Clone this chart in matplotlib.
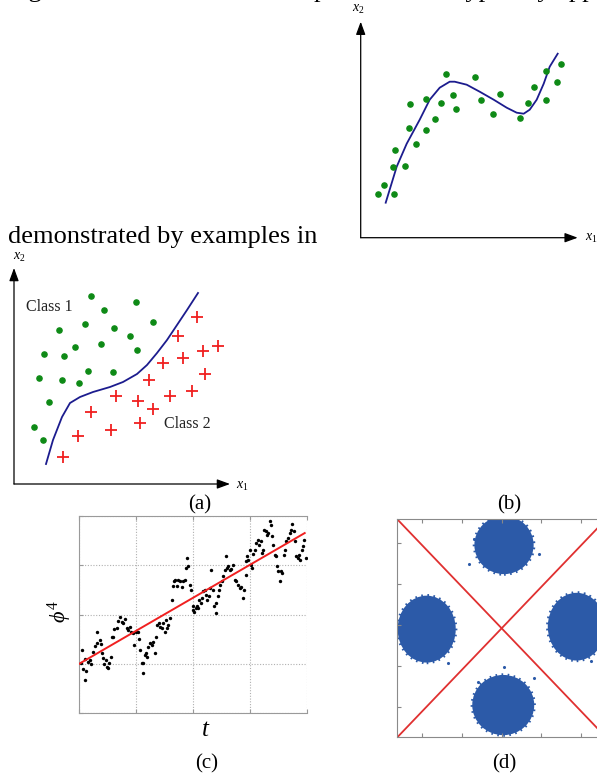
import matplotlib.pyplot as plt
from matplotlib.patches import Ellipse

W, H = 597, 774
plt.rcParams['font.family'] = ['Liberation Serif', 'DejaVu Serif']
plt.rcParams['mathtext.fontset'] = 'custom'
plt.rcParams['mathtext.rm'] = 'Liberation Serif'
plt.rcParams['mathtext.it'] = 'Liberation Serif:italic'

GREEN = '#0e8a16'
RED = '#f02020'
NAVY = '#1c1c8e'
CLUSTER = '#2c5aa8'

# ---- (a) classification: two classes split by a curve
cls1_x = [77, 122, 90, 45, 71, 100, 116, 139, 30, 50, 61, 87, 123, 25, 48, 65, 74, 99, 35, 20, 29]
cls1_y = [188, 182, 174, 154, 160, 156, 148, 162, 130, 128, 137, 140, 134, 106, 104, 101, 113, 112, 82, 57, 44]
cls2_x = [183, 164, 189, 204, 169, 149, 191, 135, 102, 124, 156, 178, 139, 77, 126, 97, 64, 49]
cls2_y = [167, 148, 133, 138, 126, 121, 110, 104, 88, 83, 88, 93, 75, 72, 61, 54, 48, 27]
bound_x = [32, 39, 48, 56, 66, 79, 96, 109, 123, 133, 143, 153, 163, 173, 184]
bound_y = [20, 44, 67, 81, 87, 92, 97, 102, 110, 119, 131, 144, 159, 174, 191]

# ---- (b) regression: noisy samples and fitted curve
reg_x = [17, 23, 33, 32, 34, 44, 55, 48, 49, 65, 65, 74, 80, 85, 92, 95, 114, 120, 132, 139,
         159, 167, 173, 185, 185, 196, 200]
reg_y = [44, 53, 44, 71, 88, 72, 94, 110, 134, 108, 139, 119, 135, 164, 143, 129, 161, 138, 124, 144,
         120, 135, 151, 138, 167, 156, 174]
fit_x = [25, 36, 46, 59, 69, 79, 89, 94, 106, 119, 133, 146, 156, 163, 169, 176, 183, 189, 197]
fit_y = [35, 71, 94, 118, 138, 150, 156, 156, 153, 146, 138, 130, 125, 124, 128, 138, 154, 171, 184]

# ---- (c) phi^4 time series with linear trend
t = [8, 6, 18, 13, 21, 18, 28, 33, 36, 43, 48, 53, 55, 63, 66, 68, 73, 75, 81, 83,
     88, 91, 95, 98, 103, 106, 113, 118, 123, 128, 133, 138, 143, 148, 153, 155, 161, 165, 171, 176,
     180, 183, 188, 193, 191, 198, 201, 205, 208, 213, 218, 223, 228, 231, 235, 239, 243, 248, 253, 258,
     261, 263, 268, 273, 278, 281, 285, 288, 293, 298, 303, 308, 313, 318, 321, 325, 328, 333, 336, 341,
     343, 346, 351, 353, 356, 361, 365, 368, 373, 378, 383, 386, 391, 393, 398, 403, 406, 411, 413, 418,
     421, 425, 431, 433, 438, 441, 445, 448, 453, 458, 463, 468, 473, 478, 483, 488, 493, 496, 501, 503,
     505, 508, 513, 516, 521, 523, 528, 533, 538, 541, 546, 549, 553, 557, 561, 565, 569, 573, 576, 580,
     583, 588, 591, 595, 598, 603, 606, 611, 615, 619, 623, 628, 633, 638, 641, 645, 649, 653, 657, 661,
     665, 669, 673, 677, 681]
phi4 = [190, 152, 162, 132, 128, 100, 153, 160, 148, 185, 203, 245, 210, 220, 208, 180, 165, 148, 160, 140,
        135, 150, 170, 230, 230, 253, 255, 278, 288, 275, 270, 282, 255, 250, 260, 245, 240, 205, 245, 243,
        222, 190, 152, 150, 122, 175, 180, 170, 200, 210, 205, 215, 180, 230, 265, 272, 260, 255, 270, 245,
        280, 255, 265, 285, 340, 380, 395, 400, 380, 400, 395, 378, 395, 400, 435, 465, 440, 385, 370, 322,
        310, 302, 315, 322, 315, 340, 330, 345, 365, 370, 355, 340, 350, 375, 430, 370, 320, 300, 330, 350,
        370, 385, 395, 412, 430, 470, 435, 440, 430, 432, 445, 400, 395, 385, 375, 378, 345, 370, 415, 455,
        470, 460, 490, 445, 435, 478, 490, 510, 520, 505, 515, 480, 490, 550, 545, 535, 540, 575, 565, 530,
        505, 475, 470, 440, 425, 395, 425, 420, 475, 490, 515, 525, 540, 550, 568, 545, 515, 470, 465, 475,
        460, 490, 500, 520, 465]
trend_t = [0, 678]
trend_phi = [148, 540]

# ---- (d) four Gaussian clusters (centre, width, height) and stray samples
clu_x = [0.06, -1.89, 1.89, 0.04]
clu_y = [1.96, -0.10, -0.04, -1.96]
clu_w = [1.54, 1.51, 1.50, 1.61]
clu_h = [1.47, 1.69, 1.71, 1.52]
stray_x = [-0.82, 0.07, -0.59, 0.81, 2.25, -1.35, -0.70, 0.95]
stray_y = [1.49, -1.04, -1.39, -1.30, -0.87, -0.94, 2.10, 1.75]

fig = plt.figure(figsize=(W / 100, H / 100), dpi=100)


def px_axes(x0, y0, w, h):
    return fig.add_axes([x0 / W, 1 - (y0 + h) / H, w / W, h / H])


def sketch_axes(x0, y0, w, h, ox, oy):
    # blank axes where one data unit is one pixel, origin at (ox, oy)
    ax = px_axes(x0, y0, w, h)
    ax.set_xlim(x0 - ox, x0 + w - ox)
    ax.set_ylim(oy - (y0 + h), oy - y0)
    ax.axis('off')
    return ax


def draw_arrows(ax, lx, ly):
    kw = dict(arrowstyle='-|>,head_length=0.6,head_width=0.22', color='black',
              lw=0.9, shrinkA=0, shrinkB=0, mutation_scale=13)
    ax.annotate('', xy=(lx, 0), xytext=(0, 0), arrowprops=kw)
    ax.annotate('', xy=(0, ly), xytext=(0, 0), arrowprops=kw)


def ftext(x, y, s, **kw):
    return fig.text(x / W, 1 - y / H, s, **kw)


# body text around the figure (the line above runs off the top edge)
ftext(8, -3, 'regression and classification problems are typically applied, respectively,',
      fontsize=19, va='baseline')
ftext(8, 243, 'demonstrated by examples in', fontsize=19, va='baseline')

# (a)
ax_a = sketch_axes(0, 250, 250, 245, 14, 484)
draw_arrows(ax_a, 216, 216)
ax_a.scatter(cls1_x, cls1_y, s=14, color=GREEN, zorder=3)
ax_a.scatter(cls2_x, cls2_y, s=70, marker='+', color=RED, linewidths=1.3, zorder=3)
ax_a.plot(bound_x, bound_y, color=NAVY, lw=1.3)
ax_a.text(12, 177, 'Class 1', fontsize=11.5, va='center', color='#222222')
ax_a.text(150, 60, 'Class 2', fontsize=11.5, va='center', color='#222222')
ax_a.text(-1, 227, '$x_2$', fontsize=10, ha='left', va='center')
ax_a.text(222, -2, '$x_1$', fontsize=10, ha='left', va='center')

# (b)
ax_b = sketch_axes(340, 0, 257, 250, 360.7, 237.7)
draw_arrows(ax_b, 217, 216)
ax_b.scatter(reg_x, reg_y, s=14, color=GREEN, zorder=3)
ax_b.plot(fit_x, fit_y, color=NAVY, lw=1.3)
ax_b.text(-2, 228, '$x_2$', fontsize=10, ha='center', va='center')
ax_b.text(224, -1, '$x_1$', fontsize=10, ha='left', va='center')

# (c)
ax_c = px_axes(79, 515.7, 227.7, 197.6)
ax_c.scatter(t, phi4, s=6, color='black', zorder=3, linewidths=0)
ax_c.plot(trend_t, trend_phi, color=RED, lw=1.4, zorder=4)
ax_c.set_xlim(0, 684)
ax_c.set_ylim(0, 592)
ax_c.set_xticks([0, 171, 342, 513, 684])
ax_c.set_yticks([0, 148, 296, 444, 592])
ax_c.set_xticklabels([])
ax_c.set_yticklabels([])
ax_c.grid(True, color='#b0b0b0', lw=0.8, linestyle=(0, (1, 1.5)))
ax_c.tick_params(direction='in', length=3, color='#999999', top=True)
for side in ['left', 'bottom', 'top']:
    ax_c.spines[side].set_color('#9a9a9a')
ax_c.spines['right'].set_visible(False)
ftext(60, 612, r'$\phi^4$', fontsize=16, rotation=90, ha='center', va='center')
ftext(206, 730, '$t$', fontsize=18, ha='center', va='center')

# (d)
ax_d = px_axes(397.3, 519.3, 208.7, 218)
ax_d.set_xlim(-2.63, 2.63)
ax_d.set_ylim(-2.75, 2.59)
for cx, cy, cw, ch in zip(clu_x, clu_y, clu_w, clu_h):
    # dotted rim stands in for the ragged edge of the point cloud
    ax_d.add_patch(Ellipse((cx, cy), cw * 0.97, ch * 0.97, facecolor=CLUSTER,
                           edgecolor=CLUSTER, lw=2.4, linestyle=(0, (0.5, 1.3))))
ax_d.scatter(stray_x, stray_y, s=5, color=CLUSTER, linewidths=0)
ax_d.plot([0, 1], [1, 0], transform=ax_d.transAxes, color='#e03030', lw=1.3)
ax_d.plot([0, 1], [0, 1], transform=ax_d.transAxes, color='#e03030', lw=1.3)
ax_d.set_xticks([-2, -1, 0, 1, 2])
ax_d.set_yticks([-2, -1, 0, 1, 2])
ax_d.set_xticklabels([])
ax_d.set_yticklabels([])
ax_d.tick_params(direction='in', length=3, color='#888888', top=True, right=True)
for sp in ax_d.spines.values():
    sp.set_color('#8a8a8a')

# panel captions
for label, x, y in [('(a)', 200, 505), ('(b)', 509, 505), ('(c)', 207, 764), ('(d)', 504, 764)]:
    ftext(x, y, label, fontsize=15, ha='center', va='center')

fig.savefig('out.png', dpi=100)
